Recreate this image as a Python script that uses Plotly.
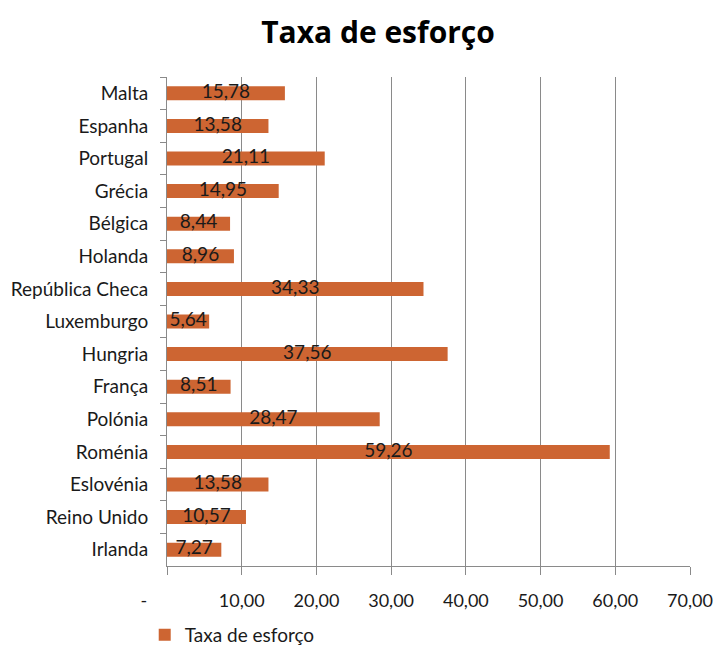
import plotly.graph_objects as go

countries = ["Malta", "Espanha", "Portugal", "Grécia", "Bélgica", "Holanda",
             "República Checa", "Luxemburgo", "Hungria", "França", "Polónia",
             "Roménia", "Eslovénia", "Reino Unido", "Irlanda"]
values = [15.78, 13.58, 21.11, 14.95, 8.44, 8.96, 34.33, 5.64, 37.56, 8.51,
          28.47, 59.26, 13.58, 10.57, 7.27]
tick_vals = [0, 10, 20, 30, 40, 50, 60, 70]
tick_text = ["-\u00a0\u00a0\u00a0\u00a0\u00a0\u00a0\u00a0\u00a0\u00a0\u00a0", "10,00", "20,00", "30,00", "40,00", "50,00", "60,00", "70,00"]
series_name = "Taxa de esforço"

labels = [f"{v:.2f}".replace(".", ",") for v in values]
FONT = "Lato, Open Sans, sans-serif"
COLOR = "#CD6532"

fig = go.Figure()
fig.add_trace(go.Bar(
    y=countries, x=values, orientation="h", name=series_name,
    marker=dict(color=COLOR, line=dict(width=0)), width=0.43,
))
fig.add_trace(go.Scatter(
    y=countries, x=[v / 2 for v in values], mode="text", text=labels,
    textfont=dict(family=FONT, size=19, color="#1a1a1a"),
    textposition="middle center", showlegend=False, hoverinfo="skip",
))

fig.update_layout(
    width=720, height=655,
    margin=dict(l=167, r=30, t=77, b=89, autoexpand=False),
    paper_bgcolor="white", plot_bgcolor="white",
    font=dict(family=FONT, size=16, color="#1a1a1a"),
    title=dict(text="<b>Taxa de esforço</b>", font=dict(family="Open Sans, sans-serif", size=30, color="black"),
               x=0.525, xref="container", xanchor="center", y=0.95, yanchor="middle"),
    showlegend=True,
    legend=dict(orientation="h", xref="container", yref="container",
                x=0.201, xanchor="left", y=0.0305, yanchor="middle",
                font=dict(size=19), itemwidth=30, bgcolor="rgba(0,0,0,0)"),
    bargap=0.5,
)
fig.update_xaxes(
    range=[0, 70], tickvals=tick_vals, ticktext=tick_text, automargin=False,
    showgrid=True, gridcolor="#8a8a8a", gridwidth=1,
    showline=True, linecolor="#8a8a8a", linewidth=1,
    ticks="outside", ticklen=8, tickcolor="#8a8a8a", ticklabelstandoff=10,
    zeroline=False, tickfont=dict(size=18),
)
fig.update_yaxes(
    categoryorder="array", categoryarray=countries,
    range=[len(countries) - 0.5, -0.5], automargin=False,
    showline=True, linecolor="#8a8a8a", linewidth=1,
    ticks="outside", ticklen=6, tickcolor="#8a8a8a", tickson="boundaries",
    ticklabelstandoff=14,
    showgrid=False, tickfont=dict(size=19),
)

fig.write_html("out.html")
